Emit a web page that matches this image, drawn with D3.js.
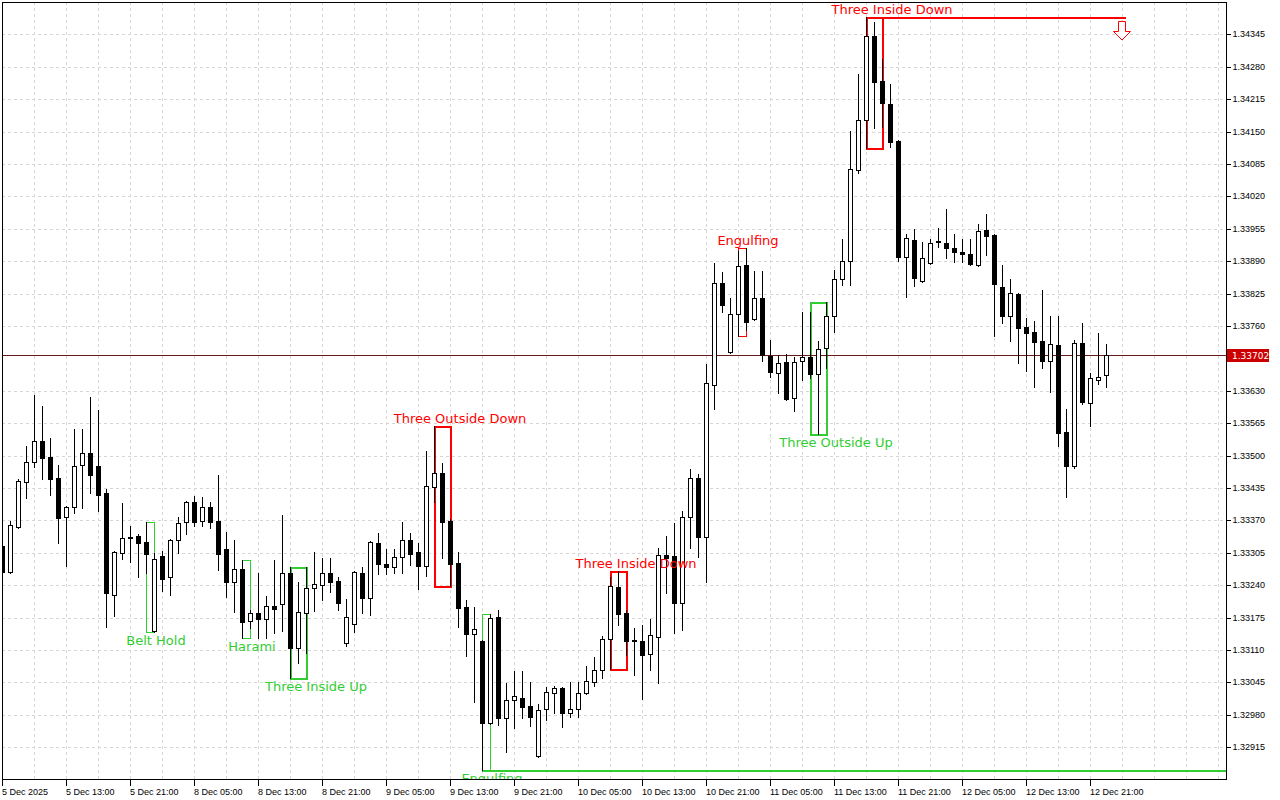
<!DOCTYPE html>
<meta charset="utf-8">
<style>

body {
  margin: 0;
  background: #fff;
}

svg {
  display: block;
  font-family: "DejaVu Sans", sans-serif;
}

.axis text {
  font-size: 9px;
  fill: #000;
}

.axis path {
  display: none;
}

.axis line {
  stroke: #000;
  shape-rendering: crispEdges;
}

.grid line {
  stroke: #d6d6d6;
  stroke-dasharray: 3,3;
  shape-rendering: crispEdges;
}

.pattern-label {
  font-size: 13px;
}

</style>
<svg></svg>
<script src="https://d3js.org/d3.v7.min.js"></script>
<script>

var width = 1280,
    height = 800;

// H1 candles, 5 Dec 05:00 .. 12 Dec 23:00
var opens = [1.33319,1.33267,1.33357,1.33447,1.33487,1.33530,1.33497,1.33455,1.33377,1.33397,
  1.33481,1.33505,1.33479,1.33425,1.33221,1.33305,1.33337,1.33339,1.33327,1.33148,
  1.33299,1.33257,1.33331,1.33367,1.33407,1.33369,1.33397,1.33369,1.33313,1.33247,
  1.33273,1.33168,1.33185,1.33172,1.33199,1.33203,1.33265,1.33114,1.33185,1.33235,
  1.33241,1.33265,1.33249,1.33124,1.33162,1.33265,1.33215,1.33325,1.33283,1.33277,
  1.33297,1.33331,1.33307,1.33279,1.33437,1.33465,1.33369,1.33285,1.33197,1.33142,
  1.33128,1.32964,1.33176,1.32974,1.33010,1.33014,1.32998,1.32898,1.32992,1.33024,
  1.33034,1.32984,1.32992,1.33024,1.33046,1.33070,1.33132,1.33237,1.33185,1.33128,
  1.33128,1.33102,1.33136,1.33301,1.33299,1.33205,1.33377,1.33455,1.33337,1.33642,
  1.33846,1.33708,1.33784,1.33883,1.33774,1.33816,1.33700,1.33666,1.33688,1.33616,
  1.33690,1.33698,1.33664,1.33716,1.33780,1.33855,1.33891,1.34073,1.34173,1.34342,
  1.34252,1.34206,1.34131,1.33899,1.33933,1.33851,1.33887,1.33929,1.33927,1.33917,
  1.33909,1.33905,1.33883,1.33953,1.33943,1.33838,1.33780,1.33824,1.33758,1.33748,
  1.33730,1.33690,1.33722,1.33548,1.33479,1.33726,1.33606,1.33652,1.33662];

var highs = [1.33331,1.33369,1.33453,1.33520,1.33622,1.33600,1.33536,1.33481,1.33399,1.33554,
  1.33554,1.33618,1.33592,1.33433,1.33309,1.33405,1.33359,1.33343,1.33367,1.33305,
  1.33309,1.33333,1.33377,1.33409,1.33419,1.33417,1.33407,1.33461,1.33347,1.33331,
  1.33291,1.33191,1.33265,1.33219,1.33291,1.33381,1.33277,1.33247,1.33277,1.33307,
  1.33295,1.33295,1.33257,1.33213,1.33269,1.33277,1.33329,1.33345,1.33313,1.33313,
  1.33367,1.33345,1.33325,1.33509,1.33560,1.33485,1.33373,1.33307,1.33211,1.33197,
  1.33130,1.33183,1.33191,1.33044,1.33068,1.33068,1.33046,1.33002,1.33036,1.33038,
  1.33036,1.33046,1.33046,1.33078,1.33096,1.33138,1.33257,1.33269,1.33191,1.33154,
  1.33160,1.33172,1.33315,1.33339,1.33365,1.33389,1.33473,1.33463,1.33684,1.33887,
  1.33869,1.33816,1.33911,1.33917,1.33871,1.33871,1.33732,1.33702,1.33704,1.33698,
  1.33788,1.33788,1.33730,1.33808,1.33873,1.33935,1.34151,1.34266,1.34380,1.34370,
  1.34296,1.34246,1.34133,1.33945,1.33955,1.33929,1.33935,1.33957,1.33995,1.33945,
  1.33935,1.33935,1.33965,1.33985,1.33945,1.33883,1.33855,1.33826,1.33776,1.33770,
  1.33832,1.33780,1.33780,1.33594,1.33732,1.33766,1.33666,1.33746,1.33724];

var lows = [1.33261,1.33265,1.33355,1.33415,1.33477,1.33453,1.33421,1.33325,1.33279,1.33385,
  1.33395,1.33425,1.33389,1.33156,1.33179,1.33293,1.33287,1.33257,1.33265,1.33146,
  1.33229,1.33221,1.33305,1.33343,1.33359,1.33359,1.33355,1.33271,1.33217,1.33187,
  1.33134,1.33154,1.33134,1.33134,1.33144,1.33148,1.33054,1.33084,1.33104,1.33189,
  1.33211,1.33227,1.33191,1.33118,1.33146,1.33185,1.33181,1.33263,1.33263,1.33265,
  1.33265,1.33281,1.33233,1.33259,1.33407,1.33295,1.33239,1.33156,1.33098,1.33006,
  1.32870,1.32962,1.32960,1.32906,1.32954,1.32974,1.32958,1.32896,1.32970,1.32984,
  1.32956,1.32976,1.32976,1.33022,1.33038,1.33054,1.33072,1.33160,1.33100,1.33060,
  1.33012,1.33070,1.33044,1.33225,1.33144,1.33150,1.33315,1.33297,1.33247,1.33594,
  1.33788,1.33706,1.33740,1.33752,1.33772,1.33690,1.33658,1.33626,1.33612,1.33590,
  1.33652,1.33656,1.33544,1.33676,1.33748,1.33842,1.33842,1.34067,1.34117,1.34157,
  1.34159,1.34119,1.33891,1.33818,1.33840,1.33849,1.33885,1.33919,1.33897,1.33889,
  1.33889,1.33883,1.33881,1.33903,1.33740,1.33766,1.33730,1.33686,1.33670,1.33638,
  1.33676,1.33628,1.33520,1.33417,1.33475,1.33604,1.33560,1.33644,1.33638];

var closes = [1.33267,1.33361,1.33449,1.33487,1.33530,1.33495,1.33453,1.33375,1.33397,1.33479,
  1.33505,1.33461,1.33421,1.33225,1.33307,1.33335,1.33335,1.33325,1.33303,1.33293,
  1.33253,1.33331,1.33365,1.33407,1.33367,1.33397,1.33367,1.33303,1.33247,1.33273,
  1.33166,1.33185,1.33172,1.33199,1.33193,1.33265,1.33114,1.33187,1.33235,1.33243,
  1.33265,1.33247,1.33205,1.33176,1.33267,1.33215,1.33327,1.33283,1.33277,1.33297,
  1.33331,1.33303,1.33279,1.33439,1.33465,1.33367,1.33283,1.33195,1.33142,1.33152,
  1.32964,1.33174,1.32974,1.33010,1.33018,1.32996,1.32976,1.32990,1.33026,1.33034,
  1.32984,1.32992,1.33024,1.33048,1.33070,1.33132,1.33239,1.33183,1.33128,1.33130,
  1.33100,1.33140,1.33301,1.33295,1.33205,1.33377,1.33455,1.33337,1.33646,1.33846,
  1.33802,1.33784,1.33881,1.33768,1.33816,1.33702,1.33668,1.33686,1.33614,1.33688,
  1.33698,1.33664,1.33714,1.33780,1.33855,1.33891,1.34075,1.34173,1.34342,1.34250,
  1.34208,1.34129,1.33899,1.33937,1.33857,1.33897,1.33927,1.33931,1.33917,1.33909,
  1.33905,1.33885,1.33951,1.33941,1.33844,1.33780,1.33826,1.33756,1.33746,1.33728,
  1.33690,1.33724,1.33546,1.33479,1.33726,1.33608,1.33656,1.33658,1.33702];

var priceTicks = ["1.32915","1.32980","1.33045","1.33110","1.33175","1.33240","1.33305",
  "1.33370","1.33435","1.33500","1.33565","1.33630","1.33760","1.33825","1.33890",
  "1.33955","1.34020","1.34085","1.34150","1.34215","1.34280","1.34345"];

var timeLabels = ["5 Dec 2025","5 Dec 13:00","5 Dec 21:00","8 Dec 05:00","8 Dec 13:00",
  "8 Dec 21:00","9 Dec 05:00","9 Dec 13:00","9 Dec 21:00","10 Dec 05:00","10 Dec 13:00",
  "10 Dec 21:00","11 Dec 05:00","11 Dec 13:00","11 Dec 21:00","12 Dec 05:00",
  "12 Dec 13:00","12 Dec 21:00"];
var timeLabelBars = [0,8,16,24,32,40,48,56,64,72,80,88,96,104,112,120,128,136];

var lastPrice = 1.33702;

var patternNames = ["Belt Hold","Harami","Three Inside Up","Three Outside Down","Engulfing",
  "Three Inside Down","Engulfing","Three Outside Up","Three Inside Down"];
var patternFrom = [18,30,36,54,60,76,92,101,108];
var patternTo   = [19,31,38,56,61,78,93,103,110];
var patternBull = [true,true,true,false,true,false,false,true,false];

var plot = {left: 2, top: 2, right: 1226, bottom: 779};

var svg = d3.select("svg")
    .attr("width", width)
    .attr("height", height);

var x = d3.scaleLinear()
    .domain([0, 138])
    .range([2, 1106]);

var y = d3.scaleLinear()
    .domain([1.328512, 1.344098])
    .range([plot.bottom, plot.top]);

function px(i) { return Math.round(x(i)); }
function py(v) { return Math.round(y(v)); }

svg.append("defs").append("clipPath")
    .attr("id", "clip")
  .append("rect")
    .attr("x", plot.left)
    .attr("y", plot.top)
    .attr("width", plot.right - plot.left)
    .attr("height", plot.bottom - plot.top);

// grid
var grid = svg.append("g").attr("class", "grid");
grid.selectAll("line.h")
    .data(priceTicks)
  .enter().append("line")
    .attr("class", "h")
    .attr("x1", plot.left).attr("x2", plot.right)
    .attr("y1", function(d) { return py(+d) + 0.5; })
    .attr("y2", function(d) { return py(+d) + 0.5; });

grid.selectAll("line.v")
    .data(d3.range(4, 155, 4).filter(function(i) { return x(i) < plot.right; }))
  .enter().append("line")
    .attr("class", "v")
    .attr("y1", plot.top).attr("y2", plot.bottom)
    .attr("x1", function(i) { return px(i) + 0.5; })
    .attr("x2", function(i) { return px(i) + 0.5; });

var layer = svg.append("g").attr("clip-path", "url(#clip)");

// pattern boxes
var patterns = patternNames.map(function(name, k) {
  var a = patternFrom[k], b = patternTo[k];
  return {
    name: name,
    n: b - a + 1,
    bull: patternBull[k],
    left: px(a),
    right: px(b),
    top: py(d3.max(highs.slice(a, b + 1))),
    bottom: py(d3.min(lows.slice(a, b + 1)))
  };
});

var green = "#32cd32", red = "#ff0000";

layer.selectAll("rect.pattern")
    .data(patterns)
  .enter().append("rect")
    .attr("class", "pattern")
    .attr("x", function(d) { return d.n == 2 ? d.left + 0.5 : d.left + 1; })
    .attr("y", function(d) { return d.n == 2 ? d.top + 0.5 : d.top + 1; })
    .attr("width", function(d) { return d.right - d.left; })
    .attr("height", function(d) { return d.bottom - d.top; })
    .attr("fill", "none")
    .attr("stroke", function(d) { return d.bull ? green : red; })
    .attr("stroke-width", function(d) { return d.n == 2 ? 1 : 2; });

// extreme levels carried to the right
var topBar = 108, lowBar = 60;
layer.append("line")
    .attr("x1", px(topBar)).attr("x2", px(140) + 4)
    .attr("y1", py(highs[topBar]) + 1).attr("y2", py(highs[topBar]) + 1)
    .attr("stroke", red).attr("stroke-width", 2);

layer.append("line")
    .attr("x1", px(lowBar)).attr("x2", plot.right)
    .attr("y1", py(lows[lowBar]) + 1).attr("y2", py(lows[lowBar]) + 1)
    .attr("stroke", green).attr("stroke-width", 2);

// down arrow
var ax = px(140);
layer.append("path")
    .attr("d", "M" + (ax - 3.5) + ",21.5 H" + (ax + 3.5) + " V31.5 H" + (ax + 8.5) +
          " L" + ax + ",40 L" + (ax - 8.5) + ",31.5 H" + (ax - 3.5) + " Z")
    .attr("fill", "#fff")
    .attr("stroke", red)
    .attr("stroke-width", 1);

// current price line
layer.append("line")
    .attr("x1", plot.left).attr("x2", plot.right)
    .attr("y1", py(lastPrice) + 0.5).attr("y2", py(lastPrice) + 0.5)
    .attr("stroke", "#6b1a1a").attr("stroke-width", 1);

// candles
var candles = layer.selectAll("g.candle")
    .data(opens.map(function(o, i) {
      return {i: i, o: o, h: highs[i], l: lows[i], c: closes[i]};
    }))
  .enter().append("g")
    .attr("class", "candle");

candles.append("line")
    .attr("x1", function(d) { return px(d.i) + 0.5; })
    .attr("x2", function(d) { return px(d.i) + 0.5; })
    .attr("y1", function(d) { return py(d.h); })
    .attr("y2", function(d) { return py(d.l) + 1; })
    .attr("stroke", "#000");

candles.append("rect")
    .attr("x", function(d) { return px(d.i) - 1.5; })
    .attr("y", function(d) { return py(Math.max(d.o, d.c)) + 0.5; })
    .attr("width", 4)
    .attr("height", function(d) { return Math.max(0, py(Math.min(d.o, d.c)) - py(Math.max(d.o, d.c))); })
    .attr("fill", function(d) { return d.c > d.o ? "#fff" : "#000"; })
    .attr("stroke", "#000")
    .attr("stroke-width", 1);

// pattern names
layer.selectAll("text.pattern-label")
    .data(patterns)
  .enter().append("text")
    .attr("class", "pattern-label")
    .attr("x", function(d) { return d.left + 10 + 16 * (d.n - 2); })
    .attr("y", function(d) { return d.bull ? d.bottom + 8 : d.top - 8; })
    .attr("dy", "0.35em")
    .attr("text-anchor", "middle")
    .attr("fill", function(d) { return d.bull ? green : red; })
    .text(function(d) { return d.name; });

// frame
svg.append("rect")
    .attr("x", plot.left + 0.5)
    .attr("y", plot.top + 0.5)
    .attr("width", plot.right - plot.left)
    .attr("height", plot.bottom - plot.top)
    .attr("fill", "none")
    .attr("stroke", "#000");

// price axis
svg.append("g")
    .attr("class", "axis")
    .attr("transform", "translate(" + (plot.right + 0.5) + ",0.5)")
    .call(d3.axisRight(y)
        .tickValues(priceTicks.map(Number))
        .tickFormat(d3.format(".5f"))
        .tickSize(4)
        .tickPadding(2))
  .selectAll(".tick")
    .attr("transform", function(d) { return "translate(0," + py(d) + ")"; });

// time axis
var xAxis = svg.append("g")
    .attr("class", "axis")
    .attr("transform", "translate(0," + (plot.bottom + 0.5) + ")")
    .call(d3.axisBottom(x)
        .tickValues(timeLabelBars)
        .tickFormat(function(d, k) { return timeLabels[k]; })
        .tickSize(6)
        .tickPadding(3));

xAxis.selectAll(".tick")
    .attr("transform", function(d) { return "translate(" + (px(d) + 0.5) + ",0)"; });
xAxis.selectAll("text")
    .attr("text-anchor", "start")
    .attr("x", -0.5);

// last price tag
var tag = svg.append("g")
    .attr("transform", "translate(" + (plot.right + 1) + "," + py(lastPrice) + ")");
tag.append("rect")
    .attr("x", 0).attr("y", -6)
    .attr("width", 42).attr("height", 13)
    .attr("fill", "#cc0000");
tag.append("text")
    .attr("x", 5).attr("y", 0.5)
    .attr("dy", "0.35em")
    .attr("font-size", "9px")
    .attr("fill", "#fff")
    .text(d3.format(".5f")(lastPrice));

</script>
